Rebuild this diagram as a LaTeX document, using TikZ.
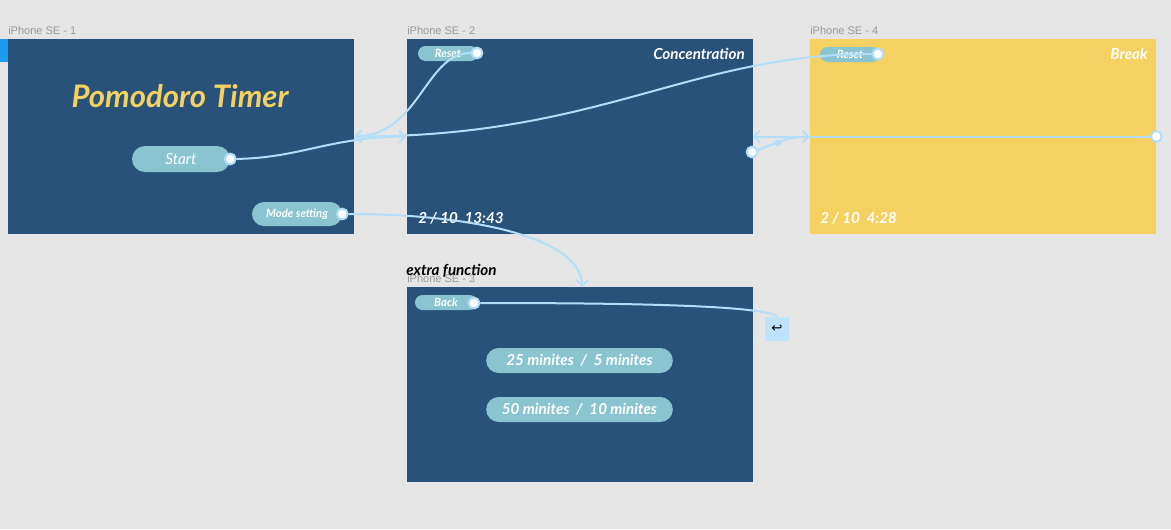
\documentclass[tikz,border=0pt]{standalone}
\usepackage{xcolor}
\usepackage{tikz}
\usepackage{fontspec}
\setmainfont{Lato}
\newfontfamily\labelfont{Liberation Sans}
\newfontfamily\symfont{DejaVu Sans}
\usetikzlibrary{shapes,arrows,positioning,calc,arrows.meta}

\definecolor{canvas}{HTML}{E5E5E5}
\definecolor{navy}{HTML}{285279}
\definecolor{sun}{HTML}{F4D160}
\definecolor{pill}{HTML}{8AC4D0}
\definecolor{wire}{HTML}{B3DEF9}
\definecolor{tab}{HTML}{1E9BF0}

\tikzset{
    screen/.style={fill=#1, inner sep=0pt, minimum width=259.5pt, minimum height=146.25pt},
    screen/.default=navy,
    title/.style={text=black!40, font=\labelfont\fontsize{8.25}{9}\selectfont, anchor=west, inner sep=0pt},
    pillbox/.style={rounded rectangle, fill=pill, text=white, inner sep=0pt, font=\bfseries\itshape},
    smallpill/.style={pillbox, minimum width=45pt, minimum height=11.25pt, font=\bfseries\itshape\fontsize{8.5}{9}\selectfont},
    widepill/.style={pillbox, minimum width=140pt, minimum height=18.75pt, font=\bfseries\itshape\fontsize{11.4}{13}\selectfont},
    link/.style={draw=wire, line width=1.5pt},
    tip/.style={-{Straight Barb[length=4.5pt,width=9pt,line width=1.3pt]}},
    dot/.style={circle, fill=white, draw=wire, line width=1.4pt, inner sep=0pt, minimum size=8pt},
    caption/.style={text=white, font=\bfseries\itshape\fontsize{11.4}{13}\selectfont, inner sep=0pt}
}

\begin{document}
\begin{tikzpicture}[x=0.75pt, y=-0.75pt]
    \fill[canvas] (0,0) rectangle (1171,529);
    \useasboundingbox (0,0) rectangle (1171,529);

    % Screens
    \node[screen] (f1) at (181,136.5) {};
    \node[screen] (f2) at (579.5,136.5) {};
    \node[screen=sun] (f4) at (983,136.5) {};
    \node[screen] (f3) at (579.5,384) {};
    \fill[tab] (0,39) rectangle (8,62);

    \node[title] at (8,31) {iPhone SE - 1};
    \node[title] at (407,31) {iPhone SE - 2};
    \node[title] at (810,31) {iPhone SE - 4};
    \node[title] at (407,279) {iPhone SE - 3};
    \node[anchor=west, inner sep=0pt, font=\bfseries\itshape\fontsize{11.4}{13}\selectfont] (extra) at (406,271) {extra function};

    % Screen 1
    \node[text=sun, font=\bfseries\itshape\fontsize{23.3}{26}\selectfont] (heading) at (180,96) {Pomodoro Timer};
    \node[pillbox, minimum width=73.5pt, minimum height=19.5pt, font=\itshape\fontsize{11.5}{13}\selectfont] (start) at (181,159) {Start};
    \node[pillbox, minimum width=67.5pt, minimum height=18pt, font=\bfseries\itshape\fontsize{8.5}{10}\selectfont] (mode) at (297,214) {Mode setting};

    % Screen 2
    \node[smallpill] (reset2) at (448,53.5) {Reset};
    \node[caption, anchor=east] at (745,54) {Concentration};
    \node[caption, anchor=west] at (418,218) {2 / 10~~13:43};

    % Screen 4
    \node[smallpill] (reset4) at (850,54.5) {Reset};
    \node[caption, anchor=east] at (1148,54) {Break};
    \node[caption, anchor=west] at (820,218) {2 / 10~~4:28};

    % Screen 3
    \node[smallpill, minimum width=46.5pt] (back) at (446,302.5) {Back};
    \node[widepill] (opt1) at (579.5,360.5) {25 minites~~/~~5 minites};
    \node[widepill] (opt2) at (579.5,409.5) {50 minites~~/~~10 minites};

    % back target
    \node[fill=wire!85, minimum size=18pt, inner sep=0pt, font=\symfont\fontsize{10}{11}\selectfont] (undo) at (777,328.5) {↩};

    % Connectors
    \node[dot] (sdot) at (start.east) {};
    \node[dot] (mdot) at (mode.east) {};
    \node[dot] (r2dot) at (477,53) {};
    \node[dot] (r4dot) at (878,54) {};
    \node[dot] (bdot) at (474,303) {};
    \node[dot] (f2dot) at (752,152) {};
    \node[dot] (f4dot) at (f4.east) {};
    \node[circle, fill=wire, inner sep=0pt, minimum size=5pt] (mid) at (778,143) {};

    \draw[link, tip] (sdot) .. controls (300,158) and (330,137) .. (f2.west);
    \draw[link, tip] (r2dot) .. controls (425,53) and (420,135) .. (f1.east);
    \draw[link, tip] (r4dot) .. controls (690,54) and (600,137) .. (f1.east);
    \draw[link, tip] (f2dot) .. controls (mid) and (785,137) .. (f4.west);
    \draw[link, tip] (f4dot) -- (f2.east);
    \draw[link, tip] (mdot) .. controls (480,214) and (582,240) .. (582,287);
    \draw[link] (bdot) .. controls (620,303) and (760,305) .. (undo.north);

    % dots on top
    \foreach \d in {sdot,mdot,r2dot,r4dot,bdot,f2dot,f4dot}
        \node[dot] at (\d) {};
\end{tikzpicture}
\end{document}
